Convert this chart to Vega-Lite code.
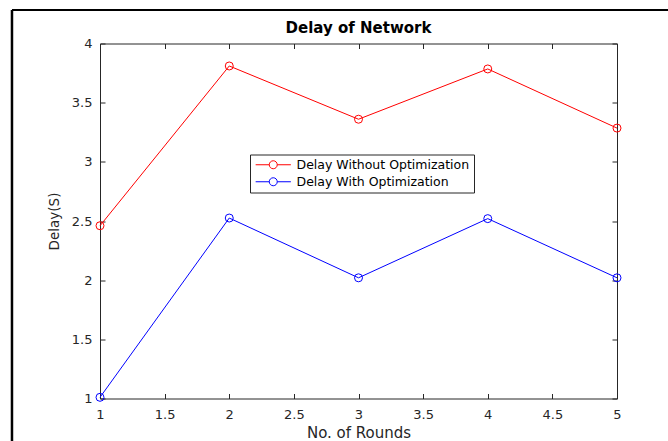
{
  "$schema": "https://vega.github.io/schema/vega-lite/v6.json",
  "width": 517,
  "height": 355,
  "autosize": {"type": "none"},
  "padding": {"left": 100, "top": 43.5, "right": 51, "bottom": 42.5},
  "background": "white",
  "title": {
    "text": "Delay of Network",
    "font": "DejaVu Sans",
    "fontSize": 15,
    "fontWeight": "bold",
    "color": "#000000",
    "frame": "group",
    "anchor": "middle",
    "offset": -27
  },
  "config": {
    "view": {"stroke": null},
    "axis": {
      "domainColor": "#262626",
      "domainWidth": 1,
      "tickColor": "#262626",
      "tickSize": -5,
      "tickWidth": 1,
      "grid": false,
      "labelFont": "DejaVu Sans",
      "labelFontSize": 13,
      "labelColor": "#262626",
      "labelFlush": false,
      "labelOverlap": false,
      "titleFont": "DejaVu Sans",
      "titleFontWeight": "normal",
      "titleColor": "#262626"
    },
    "legend": {
      "orient": "none",
      "legendX": 150,
      "legendY": 111,
      "strokeColor": "#262626",
      "fillColor": "white",
      "padding": 4,
      "labelFont": "DejaVu Sans",
      "labelFontSize": 12.5,
      "labelColor": "#000000",
      "labelLimit": 400,
      "symbolType": "M-4.4,0H-1M1,0H4.4M-1,0A1,1,0,1,1,1,0A1,1,0,1,1,-1,0",
      "symbolSize": 64,
      "symbolStrokeWidth": 1,
      "symbolFillColor": "transparent",
      "symbolOffset": 13,
      "labelOffset": 17,
      "rowPadding": 4,
      "title": null
    }
  },
  "data": {
    "values": [
      {"round": 1, "delay": 2.46, "series": "Delay Without Optimization"},
      {"round": 2, "delay": 3.81, "series": "Delay Without Optimization"},
      {"round": 3, "delay": 3.36, "series": "Delay Without Optimization"},
      {"round": 4, "delay": 3.785, "series": "Delay Without Optimization"},
      {"round": 5, "delay": 3.285, "series": "Delay Without Optimization"},
      {"round": 1, "delay": 1.01, "series": "Delay With Optimization"},
      {"round": 2, "delay": 2.525, "series": "Delay With Optimization"},
      {"round": 3, "delay": 2.02, "series": "Delay With Optimization"},
      {"round": 4, "delay": 2.52, "series": "Delay With Optimization"},
      {"round": 5, "delay": 2.02, "series": "Delay With Optimization"}
    ]
  },
  "layer": [
    {
      "mark": {"type": "line", "strokeWidth": 1},
      "encoding": {
        "x": {
          "field": "round",
          "type": "quantitative",
          "title": "No. of Rounds",
          "scale": {"domain": [1, 5], "nice": false, "zero": false},
          "axis": {
            "orient": "bottom",
            "values": [1, 1.5, 2, 2.5, 3, 3.5, 4, 4.5, 5],
            "format": "~g",
            "labelPadding": 15,
            "titleFontSize": 15,
            "titlePadding": 4
          }
        },
        "y": {
          "field": "delay",
          "type": "quantitative",
          "title": "Delay(S)",
          "scale": {"domain": [1, 4], "nice": false, "zero": false},
          "axis": {
            "orient": "left",
            "values": [1, 1.5, 2, 2.5, 3, 3.5, 4],
            "format": "~g",
            "labelPadding": 13,
            "titleFontSize": 13.5,
            "titlePadding": 10
          }
        },
        "stroke": {
          "field": "series",
          "type": "nominal",
          "sort": ["Delay Without Optimization", "Delay With Optimization"],
          "scale": {
            "domain": ["Delay Without Optimization", "Delay With Optimization"],
            "range": ["#ff0000", "#0000ff"]
          },
          "legend": {}
        }
      }
    },
    {
      "mark": {"type": "point", "shape": "circle", "filled": false, "size": 64, "strokeWidth": 1, "opacity": 1},
      "encoding": {
        "x": {
          "field": "round",
          "type": "quantitative",
          "axis": {"orient": "top", "values": [1, 1.5, 2, 2.5, 3, 3.5, 4, 4.5, 5], "labels": false, "title": null}
        },
        "y": {
          "field": "delay",
          "type": "quantitative",
          "axis": {"orient": "right", "values": [1, 1.5, 2, 2.5, 3, 3.5, 4], "labels": false, "title": null}
        },
        "stroke": {"field": "series", "type": "nominal"}
      }
    },
    {
      "data": {"values": [{}]},
      "mark": {"type": "rule", "stroke": "#000000", "strokeWidth": 2.5},
      "encoding": {
        "x": {"datum": 0.319, "type": "quantitative", "axis": null},
        "y": {"datum": 4.283, "type": "quantitative", "axis": null},
        "y2": {"datum": -1}
      }
    },
    {
      "data": {"values": [{}]},
      "mark": {"type": "rule", "stroke": "#000000", "strokeWidth": 2.2},
      "encoding": {
        "x": {"datum": 0.319, "type": "quantitative", "axis": null},
        "x2": {"datum": 6},
        "y": {"datum": 4.283, "type": "quantitative", "axis": null}
      }
    }
  ]
}
